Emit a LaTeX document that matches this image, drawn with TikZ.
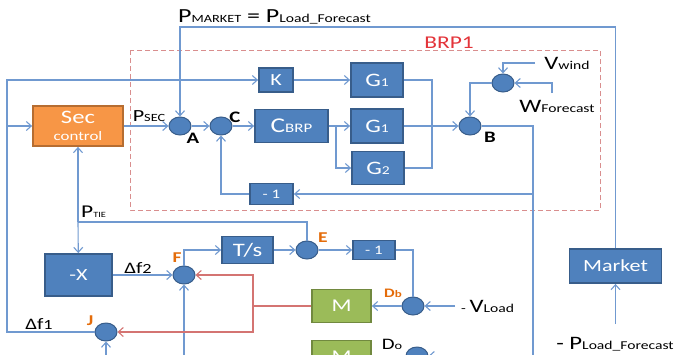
\documentclass[tikz,border=0pt]{standalone}
\usepackage{fontspec}
\setmainfont{Carlito}
\usepackage{graphicx}
\usetikzlibrary{arrows.meta,shapes.geometric}

\definecolor{boxfill}{HTML}{4F81BD}
\definecolor{boxline}{HTML}{385D8A}
\definecolor{sigline}{HTML}{7099D0}
\definecolor{secfill}{HTML}{F79646}
\definecolor{secline}{HTML}{B66D31}
\definecolor{mfill}{HTML}{9BBB59}
\definecolor{mline}{HTML}{71893F}
\definecolor{fbline}{HTML}{D47472}
\definecolor{brpline}{HTML}{D98E8E}
\definecolor{ptcol}{HTML}{E46C0A}
\definecolor{brpcol}{HTML}{E3343A}

\newcommand{\hstr}[1]{\scalebox{1.3}[1]{#1}}
\newcommand{\fsz}[1]{\fontsize{#1}{#1}\selectfont}

\begin{document}
\begin{tikzpicture}[x=1pt, y=-1pt,
  every node/.style={inner sep=0pt},
  blk/.style={rectangle, draw=boxline, fill=boxfill, line width=1.8pt, text=white},
  sumpt/.style={ellipse, draw=boxline, fill=boxfill, line width=1pt, minimum width=22pt, minimum height=18pt},
  sig/.style={draw=sigline, line width=1.1pt},
  arr/.style={sig, -{Straight Barb[length=5pt,width=9pt]}},
  fbarr/.style={draw=fbline, line width=1.1pt, -{Straight Barb[length=5pt,width=9pt]}},
  ptlbl/.style={text=ptcol, font=\bfseries\fsz{15}}]
  \useasboundingbox (0,0) rectangle (679,354);
  \clip (0,0) rectangle (679,354);

  % BRP1 area
  \draw[brpline, dash pattern=on 5pt off 3pt, line width=1pt] (130,50) rectangle (600,210);
  \node[text=brpcol, font=\fsz{18}] (brp) at (449,43) {\hstr{BRP1}};

  % blocks
  \node[blk, fill=secfill, draw=secline, minimum width=90pt, minimum height=40pt, align=center] (sec) at (78,126)
    {\hstr{\fsz{19}Sec}\\[5pt]\hstr{\fsz{13}control}};
  \node[blk, minimum width=34pt, minimum height=24pt] (k) at (276,80) {\hstr{\fsz{17}K}};
  \node[blk, minimum width=73pt, minimum height=33pt] (cbrp) at (291.5,126) {\hstr{\fsz{21}C\fsz{13}BRP}};
  \node[blk, minimum width=52pt, minimum height=34pt] (g1a) at (377,80) {\hstr{\fsz{19}G\fsz{12}1}};
  \node[blk, minimum width=52pt, minimum height=34pt] (g1b) at (377,126) {\hstr{\fsz{19}G\fsz{12}1}};
  \node[blk, minimum width=52pt, minimum height=33pt] (g2) at (378,168) {\hstr{\fsz{19}G\fsz{12}2}};
  \node[blk, minimum width=43pt, minimum height=21pt] (inva) at (271.5,194) {\hstr{\fsz{13}- 1}};
  \node[blk, minimum width=67pt, minimum height=42pt] (negx) at (78.5,275) {\hstr{\fsz{17}-X}};
  \node[blk, minimum width=51pt, minimum height=27pt] (ts) at (247.5,250) {\hstr{\fsz{19}T/s}};
  \node[blk, minimum width=42pt, minimum height=19pt] (invb) at (374,250) {\hstr{\fsz{13}- 1}};
  \node[blk, fill=mfill, draw=mline, minimum width=59pt, minimum height=33pt] (ma) at (341.5,306) {\hstr{\fsz{18}M}};
  \node[blk, fill=mfill, draw=mline, minimum width=59pt, minimum height=33pt] (mb) at (341.5,357) {\hstr{\fsz{18}M}};
  \node[blk, minimum width=92pt, minimum height=34pt] (market) at (615.5,266) {\hstr{\fsz{17}Market}};

  % summing points
  \node[sumpt] (sa) at (180,126) {};
  \node[sumpt] (sc) at (221,126) {};
  \node[sumpt] (sb) at (470,126) {};
  \node[sumpt] (sw) at (503,83) {};
  \node[sumpt] (sf) at (184,275) {};
  \node[sumpt] (se) at (307,250) {};
  \node[sumpt] (sdb) at (413,306) {};
  \node[sumpt] (sdo) at (417,356) {};
  \node[sumpt] (sj) at (106,332) {};

  \coordinate (ptop) at (180,27);
  \coordinate (lft) at (7,80);
  \coordinate (lfs) at (7,126);
  \coordinate (brc) at (336,126);
  \coordinate (gj) at (432,126);
  \coordinate (bout) at (533,126);
  \coordinate (bdn) at (533,194);
  \coordinate (bend) at (533,360);
  \coordinate (vw) at (535,63);
  \coordinate (wf) at (552,93);
  \coordinate (tie) at (78,222);
  \coordinate (vl) at (455,306);
  \coordinate (rj) at (253,306);
  \coordinate (fin) at (184,360);
  \coordinate (jin) at (106,360);
  \coordinate (pin) at (615.5,324);
  \coordinate (doin) at (445,356);

  % signal lines
  \draw[arr] (market) |- (ptop) -- (sa);
  \draw[arr] (sec) -- (sa);
  \draw[arr] (sa) -- (sc);
  \draw[arr] (sc) -- (cbrp);
  \draw[arr] (cbrp) -- (g1b);
  \draw[arr] (brc) |- (g2);
  \draw[arr] (k) -- (g1a);
  \draw[arr] (sj) -| (lft) -- (k);
  \draw[arr] (lfs) -- (sec);
  \draw[sig] (g1a) -| (gj) |- (g2);
  \draw[arr] (g1b) -- (sb);
  \draw[arr] (sw) -| (sb);
  \draw[arr] (vw) -| (sw);
  \draw[arr] (wf) |- (sw);
  \draw[sig] (sb) -- (bout) -- (bend);
  \draw[arr] (bdn) -- (inva);
  \draw[arr] (inva) -| (sc);
  \draw[arr] (tie) -- (sec);
  \draw[arr] (tie) -- (negx);
  \draw[sig] (tie) -| (se);
  \draw[arr] (negx) -- (sf);
  \draw[arr] (sf) |- (ts);
  \draw[arr] (ts) -- (se);
  \draw[arr] (se) -- (invb);
  \draw[sig] (invb) -| (sdb);
  \draw[arr] (vl) -- (sdb);
  \draw[arr] (sdb) -- (ma);
  \draw[arr] (fin) -- (sf);
  \draw[arr] (jin) -- (sj);
  \draw[arr] (pin) -- (market);
  \draw[arr] (doin) -- (sdo);

  % feedback from M
  \draw[fbline, line width=1.1pt] (ma) -- (rj);
  \draw[fbarr] (rj) |- (sf);
  \draw[fbarr] (rj) |- (sj);

  % labels
  \node[anchor=base west, font=\fsz{20}] (pmkt) at (178,22) {\hstr{P{\fsz{11}MARKET} = P{\fsz{12}Load\_Forecast}}};
  \node[anchor=base, font=\fsz{17}] (psec) at (149,121) {\hstr{P{\fsz{11}SEC}}};
  \node[font=\bfseries\fsz{16}] (la) at (193,138) {\hstr{A}};
  \node[font=\bfseries\fsz{16}] (lb) at (490,137) {\hstr{B}};
  \node[font=\bfseries\fsz{16}] (lc) at (235,117) {\hstr{C}};
  \node[anchor=base, font=\fsz{19}] (lvw) at (567,69) {\hstr{V{\fsz{12}wind}}};
  \node[anchor=base, font=\fsz{19}] (lwf) at (557,112) {\hstr{W{\fsz{12}Forecast}}};
  \node[anchor=base west, font=\fsz{18}] (ltie) at (81,217) {\hstr{P{\fsz{8}TIE}}};
  \node[anchor=base, font=\fsz{16}] (ldf2) at (138,273) {\hstr{Δf{\fsz{14}2}}};
  \node[anchor=base, font=\fsz{16}] (ldf1) at (39,329) {\hstr{Δf{\fsz{14}1}}};
  \node[ptlbl] (lf) at (177,258) {\hstr{F}};
  \node[ptlbl] (le) at (323,238) {\hstr{E}};
  \node[ptlbl] (lj) at (90,321) {\hstr{J}};
  \node[ptlbl, font=\bfseries\fsz{13}] (ldb) at (393,293) {\hstr{D{\fsz{10}b}}};
  \node[font=\fsz{16}] (ldo) at (392,344) {\hstr{D{\fsz{11}o}}};
  \node[anchor=base west, font=\fsz{19}] (lvl) at (461,312) {\hstr{{\fsz{12}- }V{\fsz{12}Load}}};
  \node[anchor=base, font=\fsz{19}] (lpl) at (615,349) {\hstr{- P{\fsz{12}Load\_Forecast}}};
\end{tikzpicture}
\end{document}
